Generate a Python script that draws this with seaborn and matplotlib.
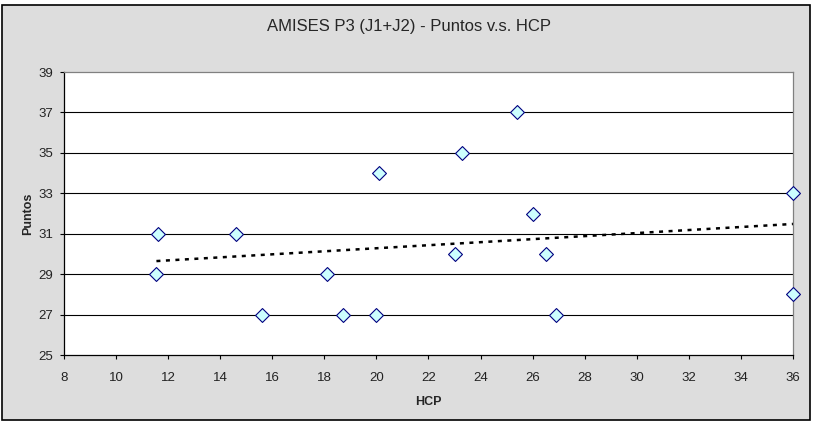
import numpy as np
import pandas as pd
import matplotlib
matplotlib.use("Agg")
import matplotlib.pyplot as plt
import seaborn as sns
from matplotlib.patches import Rectangle

# values
hcp = [11.6, 11.55, 14.6, 15.6, 18.1, 18.7, 20.0, 20.1, 23.0, 23.3, 25.4, 26.0, 26.5, 26.9, 36.0, 36.0]
puntos = [31, 29, 31, 27, 29, 27, 27, 34, 30, 35, 37, 32, 30, 27, 33, 28]
x_ticks = list(range(8, 37, 2))
y_ticks = list(range(25, 40, 2))

df = pd.DataFrame({"HCP": hcp, "Puntos": puntos})

sns.set_style("white")
plt.rcParams["font.family"] = ["Liberation Sans", "DejaVu Sans"]

fig = plt.figure(figsize=(8.17, 4.26), dpi=100)
fig.patch.set_facecolor("white")
# gray chart area with black border
fig.patches.append(Rectangle((2 / 817, 1 - 420 / 426), 808 / 817, 415 / 426,
                             transform=fig.transFigure, facecolor="#DDDDDD",
                             edgecolor="black", linewidth=1.2, zorder=-10))

ax = fig.add_axes([64 / 817, 1 - 355 / 426, (793 - 64) / 817, (355 - 72) / 426])
ax.set_facecolor("white")

for yv in y_ticks[1:-1]:
    ax.axhline(yv, color="black", linewidth=0.8, zorder=1)

sns.regplot(data=df, x="HCP", y="Puntos", scatter=False, ci=None, ax=ax,
            line_kws=dict(color="black", linewidth=1.8, linestyle=(0, (1.6, 2.2))))

sns.scatterplot(data=df, x="HCP", y="Puntos", ax=ax, marker="D", s=50,
                color="#CCFFFF", edgecolor="#000080", linewidth=0.8, zorder=5,
                clip_on=False)

ax.set_xlim(8, 36)
ax.set_ylim(25, 39)
ax.set_xticks(x_ticks)
ax.set_yticks(y_ticks)
ax.tick_params(axis="both", direction="out", length=3, width=0.8, color="black",
               labelsize=9.5, labelcolor="#222222", bottom=True, left=True)
ax.tick_params(axis="x", pad=9)
ax.tick_params(axis="y", pad=5)
for side in ["left", "bottom"]:
    ax.spines[side].set_color("black")
    ax.spines[side].set_linewidth(0.9)
for side in ["top", "right"]:
    ax.spines[side].set_color("#808080")
    ax.spines[side].set_linewidth(0.9)

ax.set_xlabel("HCP", fontsize=9, fontweight="bold", labelpad=9)
ax.set_ylabel("Puntos", fontsize=9, fontweight="bold", labelpad=3)
fig.text(409 / 817, 1 - 27 / 426, "AMISES P3 (J1+J2) - Puntos v.s. HCP",
         ha="center", va="center", fontsize=12)

fig.savefig("out.png", dpi=100, facecolor=fig.get_facecolor())
